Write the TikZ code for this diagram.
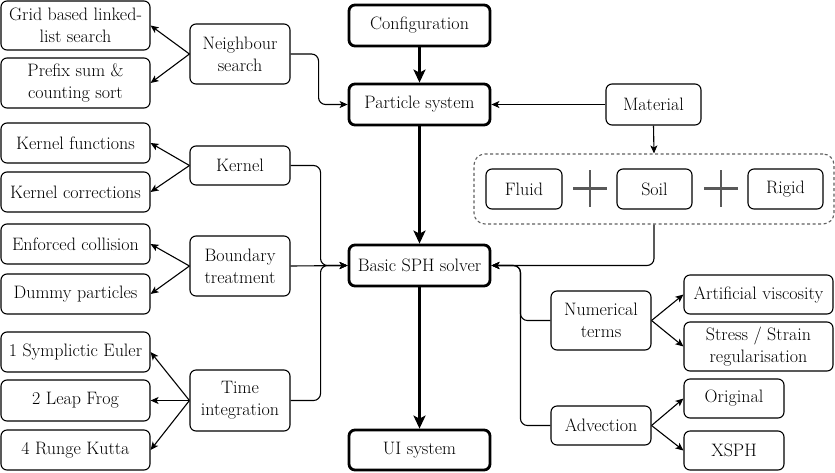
\documentclass[tikz,border=0pt]{standalone}
\usepackage{fontspec}
\usetikzlibrary{arrows.meta}
\tikzset{
  box/.style={draw=black, line width=1.1pt, rounded corners=6pt, inner sep=0pt, align=center,
    font=\rmfamily\fontsize{18}{22}\selectfont},
  mainbox/.style={box, line width=2.8pt},
  conn/.style={line width=1.1pt, -{Stealth[length=8pt,width=7pt,inset=2pt]}},
  thickconn/.style={line width=2.8pt, -{Stealth[length=13pt,width=12pt,inset=3pt]}},
  elbow/.style={conn, rounded corners=7pt},
  plus/.style={draw=gray!70!black, line width=2.2pt},
}
\newcommand\bx[7][]{\node[box,#1,minimum width=#5pt-#3pt, minimum height=#6pt-#4pt] (#2) at ({(#3+#5)/2},{(#4+#6)/2}) {#7};}
\begin{document}
\begin{tikzpicture}[x=1pt,y=-1pt]
\useasboundingbox (0,0) rectangle (835,472);
% left column
\bx{grid}{1}{1}{150}{50}{Grid based linked-\\list search}
\bx{prefix}{1}{58}{150}{108}{Prefix sum \&\\counting sort}
\bx{kf}{1}{123}{150}{163}{Kernel functions}
\bx{kc}{1}{172}{150}{212}{Kernel corrections}
\bx{ec}{1}{224}{150}{264}{Enforced collision}
\bx{dp}{1}{274}{150}{314}{Dummy particles}
\bx{se}{1}{332}{150}{372}{1 Symplictic Euler}
\bx{lf}{1}{380}{150}{421}{2 Leap Frog}
\bx{rk}{1}{430}{150}{470}{4 Runge Kutta}
% middle column
\bx{ns}{190}{24}{290}{84}{Neighbour\\search}
\bx{ker}{190}{146}{290}{185}{Kernel}
\bx{bt}{190}{236}{290}{296}{Boundary\\treatment}
\bx{ti}{190}{370}{290}{431}{Time\\integration}
% main column
\bx[mainbox]{conf}{349}{5}{490}{46}{Configuration}
\bx[mainbox]{ps}{349}{84}{490}{125}{Particle system}
\bx[mainbox]{sph}{349}{245}{490}{286}{Basic SPH solver}
\bx[mainbox]{ui}{349}{430}{490}{470}{UI system}
% material
\bx{mat}{606}{84}{701}{125}{Material}
\node[draw=gray!75!black, line width=1.1pt, dash pattern=on 3pt off 2.5pt, rounded corners=11pt,
  minimum width=360pt, minimum height=70pt, inner sep=0pt] (cont) at (654,189) {};
\bx{fluid}{486}{169}{562}{209}{Fluid}
\bx{soil}{617}{169}{692}{209}{Soil}
\bx{rigid}{748}{169}{823}{209}{Rigid}
\draw[plus] (573,188.5) -- (607,188.5) (590,170) -- (590,207);
\draw[plus] (704,188.5) -- (738,188.5) (721,170) -- (721,207);
% right side
\bx{num}{551}{291}{651}{350}{Numerical\\terms}
\bx{adv}{551}{406}{651}{445}{Advection}
\bx{av}{684}{275}{833}{314}{Artificial viscosity}
\bx{ss}{684}{322}{833}{371}{Stress / Strain\\regularisation}
\bx{orig}{684}{379}{784}{418}{Original}
\bx{xsph}{684}{431}{784}{470}{XSPH}
% main flow
\draw[thickconn] (conf) -- (ps);
\draw[thickconn] (ps) -- (sph);
\draw[thickconn] (sph) -- (ui);
% left fan-outs
\draw[conn] (ns.west) -- (grid.east);
\draw[conn] (ns.west) -- (prefix.east);
\draw[conn] (ker.west) -- (kf.east);
\draw[conn] (ker.west) -- (kc.east);
\draw[conn] (bt.west) -- (ec.east);
\draw[conn] (bt.west) -- (dp.east);
\draw[conn] (ti.west) -- (se.east);
\draw[conn] (ti.west) -- (lf.east);
\draw[conn] (ti.west) -- (rk.east);
% to main
\draw[elbow] (ns.east) -- ++(28,0) |- (ps.west);
\draw[elbow] (ker.east) -- ++(30,0) |- (sph.west);
\draw[conn] (bt.east) -- (sph.west);
\draw[elbow] (ti.east) -- ++(30,0) |- (sph.west);
% material
\draw[conn] (mat.west) -- (ps.east);
\draw[conn] (mat.south) -- (cont.north);
\draw[elbow] (cont.south) |- (sph.east);
\draw[elbow] (num.west) -- ++(-30,0) |- (sph.east);
\draw[elbow] (adv.west) -- ++(-30,0) |- (sph.east);
% right fan-outs
\draw[conn] (num.east) -- (av.west);
\draw[conn] (num.east) -- (ss.west);
\draw[conn] (adv.east) -- (orig.west);
\draw[conn] (adv.east) -- (xsph.west);
\end{tikzpicture}
\end{document}
